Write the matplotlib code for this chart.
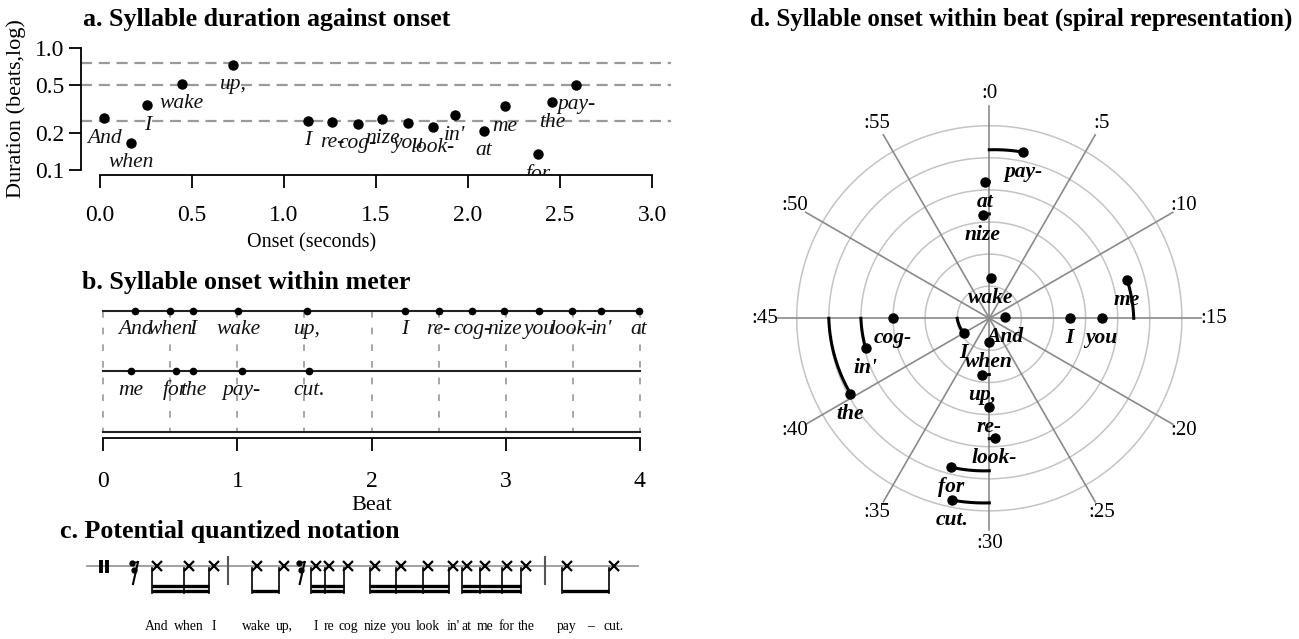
import numpy as np
import matplotlib
matplotlib.use("Agg")
import matplotlib.pyplot as plt
from matplotlib.transforms import offset_copy
from matplotlib.ticker import NullLocator

plt.rcParams['font.family'] = ['Liberation Serif', 'DejaVu Serif']

# ---------------- data ----------------
syllables = ["And", "when", "I", "wake", "up,", "I", "re-", "cog-", "nize", "you",
             "look-", "in'", "at", "me", "for", "the", "pay-", "cut."]
# panel a: onset in seconds and duration in beats (last syllable has no duration)
onset_sec = [0.022, 0.168, 0.257, 0.444, 0.725, 1.129, 1.263, 1.400, 1.534, 1.674,
             1.810, 1.929, 2.087, 2.201, 2.382, 2.458, 2.588]
duration_beats = [0.265, 0.167, 0.339, 0.511, 0.733, 0.252, 0.247, 0.238, 0.262, 0.241,
                  0.223, 0.280, 0.210, 0.333, 0.134, 0.359, 0.502]
duration_refs = [0.25, 0.5, 0.75]
a_xticks = [0.0, 0.5, 1.0, 1.5, 2.0, 2.5, 3.0]
a_yticks = [0.1, 0.2, 0.5, 1.0]

# panels b and d: onset in beats, and the quantized beat
onset_beat = [0.237, 0.500, 0.667, 1.005, 1.520, 2.250, 2.500, 2.750, 2.990, 3.250,
              3.493, 3.713, 3.995, 4.207, 4.540, 4.671, 5.032, 5.532]
quantized_beat = [0.25, 0.5, 0.75, 1.0, 1.5, 2.25, 2.5, 2.75, 3.0, 3.25,
                  3.5, 3.75, 4.0, 4.25, 4.5, 4.75, 5.0, 5.5]
beats_per_row = 4
n_rows = 3
beat_ticks = [0, 1, 2, 3, 4]
meter_grid = [0, 0.5, 1, 1.5, 2, 2.5, 3, 3.5, 4]
clock_labels = [":0", ":5", ":10", ":15", ":20", ":25", ":30", ":35", ":40", ":45", ":50", ":55"]
spiral_rings = [1, 2, 3, 4, 5, 6]

# panel c: quantized notation (engraved positions along the staff)
lyrics = ["And", "when", "I", "wake", "up,", "I", "re", "cog", "nize", "you",
          "look", "in'", "at", "me", "for", "the", "pay", "cut."]
staff_pos = [156.7, 189, 214, 256.7, 284, 315.7, 329.3, 348.3, 375, 401,
             428, 453.3, 466.7, 485, 506.7, 526, 566.7, 613.8]
beam_groups = [(0, 2, 2), (3, 4, 1), (5, 7, 2), (8, 11, 2), (12, 15, 2), (16, 17, 1)]
barline_pos = [228.3, 545]
rest_pos = [135, 301.7]

# ---------------- figure ----------------
W, H = 1299, 639
fig = plt.figure(figsize=(W / 100, H / 100), dpi=100)


def px_box(l, t, r, b):
    return [l / W, 1 - b / H, (r - l) / W, (b - t) / H]


TICK_FS = 17
LAB_FS = 16
WORD_FS = 15.5

# ---------------- a ----------------
axA = fig.add_axes(px_box(81, 43.4, 671, 174.6))
axA.set_yscale('log')
axA.set_xlim(-0.103, 3.103)
axA.set_ylim(10 ** -1.04, 10 ** 0.04)
for d in duration_refs:
    axA.axhline(d, color='#9a9a9a', lw=1.6, dashes=(5, 3), zorder=1)
axA.plot(onset_sec, duration_beats, 'o', color='black', ms=6.5, zorder=3)
trA = offset_copy(axA.transData, fig=fig, x=0, y=-20, units='dots')
for x, d, s in zip(onset_sec, duration_beats, syllables):
    axA.text(x, d, s, transform=trA, ha='center', va='center', fontsize=WORD_FS,
             style='italic', clip_on=True, color='#111111')
for s in ['top', 'right']:
    axA.spines[s].set_visible(False)
axA.spines['left'].set_bounds(0.1, 1.0)
axA.spines['bottom'].set_bounds(0, 3)
for s in ['left', 'bottom']:
    axA.spines[s].set_linewidth(1.3)
axA.set_yticks(a_yticks)
axA.set_yticklabels([f"{v:.1f}" for v in a_yticks])
axA.yaxis.set_minor_locator(NullLocator())
axA.set_xticks(a_xticks)
axA.set_xticklabels([f"{v:.1f}" for v in a_xticks])
axA.tick_params(length=9, width=1.3, labelsize=TICK_FS, direction='out')
axA.tick_params(axis='x', pad=13)
axA.tick_params(axis='y', pad=3)
axA.set_xlabel('Onset (seconds)', fontsize=14.5)
axA.set_ylabel('Duration (beats,log)', fontsize=LAB_FS)
axA.xaxis.set_label_coords(0.391, -0.45)
axA.yaxis.set_label_coords(-0.093, 0.5)
fig.text(82.7 / W, 1 - 26 / H, 'a. Syllable duration against onset', fontsize=18.7,
         weight='bold', va='baseline', ha='left')

# ---------------- b ----------------
axB = fig.add_axes(px_box(81.8, 292, 661.2, 437.5))
axB.set_xlim(-0.16, 4.16)
axB.set_ylim(2.098, -0.315)
rows = [int(b // beats_per_row) for b in onset_beat]
pos = [b - r * beats_per_row for b, r in zip(onset_beat, rows)]
for r in range(n_rows):
    axB.plot([0, beats_per_row], [r, r], color='#222222', lw=1.5, zorder=2)
for g in meter_grid:
    axB.plot([g, g], [0, n_rows - 1], color='#9a9a9a', lw=1.2, dashes=(4, 6), zorder=1)
axB.plot(pos, rows, 'o', color='black', ms=4.5, zorder=3)
trB = offset_copy(axB.transData, fig=fig, x=0, y=-19, units='dots')
for x, r, s in zip(pos, rows, syllables):
    axB.text(x, r, s, transform=trB, ha='center', va='center', fontsize=WORD_FS,
             style='italic', color='#111111')
for s in ['top', 'right', 'left']:
    axB.spines[s].set_visible(False)
axB.spines['bottom'].set_bounds(0, 4)
axB.spines['bottom'].set_linewidth(1.3)
axB.set_yticks([])
axB.set_xticks(beat_ticks)
axB.set_xticklabels([str(v) for v in beat_ticks])
axB.tick_params(length=9, width=1.3, labelsize=TICK_FS, direction='out', pad=15)
axB.set_xlabel('Beat', fontsize=LAB_FS)
axB.xaxis.set_label_coords(0.5, -0.405)
fig.text(82 / W, 1 - 289 / H, 'b. Syllable onset within meter', fontsize=18.7,
         weight='bold', va='baseline', ha='left')

# ---------------- c ----------------
axC = fig.add_axes(px_box(60, 540, 660, 639))
axC.set_xlim(60, 660)
axC.set_ylim(639, 540)
axC.axis('off')
staff_y = 566
axC.plot([86.7, 638], [staff_y, staff_y], color='#9a9a9a', lw=1.3, zorder=1)
for cxp in (100.5, 106.5):
    axC.plot([cxp, cxp], [560, 573], color='black', lw=2.8, solid_capstyle='butt')
axC.plot(staff_pos, [staff_y] * len(staff_pos), 'x', color='black', ms=7, mew=1.6, zorder=3)
for x in staff_pos:
    axC.plot([x - 4.5, x - 4.5], [staff_y + 2, 593], color='black', lw=1.2)
for i0, i1, nb in beam_groups:
    for k in range(nb):
        yb = 591.5 - 5 * k
        axC.plot([staff_pos[i0] - 4.5, staff_pos[i1] - 4.5], [yb, yb], color='black',
                 lw=2.4, solid_capstyle='butt')
for x in barline_pos:
    axC.plot([x, x], [557, 584], color='#555555', lw=1.5)
for x in rest_pos:
    axC.plot([x + 3, x - 2], [562, 584], color='black', lw=1.5)
    axC.plot([x - 3, x - 1], [563, 570], 'o', color='black', ms=3.5)
    axC.plot([x - 3, x + 3], [563, 562], color='black', lw=1.2)
    axC.plot([x - 1, x + 1], [570, 570], color='black', lw=1.2)
for x, w in zip(staff_pos, lyrics):
    axC.text(x, 627, w, ha='center', va='center', fontsize=9.8)
axC.text((staff_pos[-2] + staff_pos[-1]) / 2, 627, '\u2013', ha='center', va='center',
         fontsize=9.8)
fig.text(60 / W, 1 - 538 / H, 'c. Potential quantized notation', fontsize=18.7,
         weight='bold', va='baseline', ha='left')

# ---------------- d ----------------
R_MAX = 7.5
unit = 32.1
side = 2 * R_MAX * unit
cx, cy = 989.3, 318.3
axD = fig.add_axes(px_box(cx - side / 2, cy - side / 2, cx + side / 2, cy + side / 2),
                   projection='polar')
axD.set_theta_zero_location('N')
axD.set_theta_direction(-1)
axD.set_ylim(0, R_MAX)
axD.axis('off')
ring_theta = np.linspace(0, 2 * np.pi, 361)
for k in spiral_rings:
    axD.plot(ring_theta, np.full_like(ring_theta, k), color='#c4c4c4', lw=1.1, zorder=1)
for i, lab in enumerate(clock_labels):
    th = 2 * np.pi * i / len(clock_labels)
    axD.plot([th, th], [0, 6.6], color='#8a8a8a', lw=1.2, zorder=1)
    axD.text(th, 7.0, lab, ha='center', va='center', fontsize=15)
spiral_offset = 0.25
ob = np.array(onset_beat)
qb = np.array(quantized_beat)
for b, q in zip(ob, qb):
    t = np.linspace(b, q, 40)
    axD.plot(2 * np.pi * t, t + spiral_offset, color='black', lw=2.2, zorder=3)
axD.plot(2 * np.pi * ob, ob + spiral_offset, 'o', color='black', ms=6.5, zorder=4)
trD = offset_copy(axD.transData, fig=fig, x=0, y=-20, units='dots')
for b, s in zip(ob, syllables):
    axD.text(2 * np.pi * b, b + spiral_offset, s, transform=trD, ha='center', va='center',
             fontsize=WORD_FS, style='italic', weight='bold', zorder=5)
fig.text(750 / W, 1 - 26 / H, 'd. Syllable onset within beat (spiral representation)',
         fontsize=17.9, weight='bold', va='baseline', ha='left')

fig.savefig('out.png', dpi=100)
